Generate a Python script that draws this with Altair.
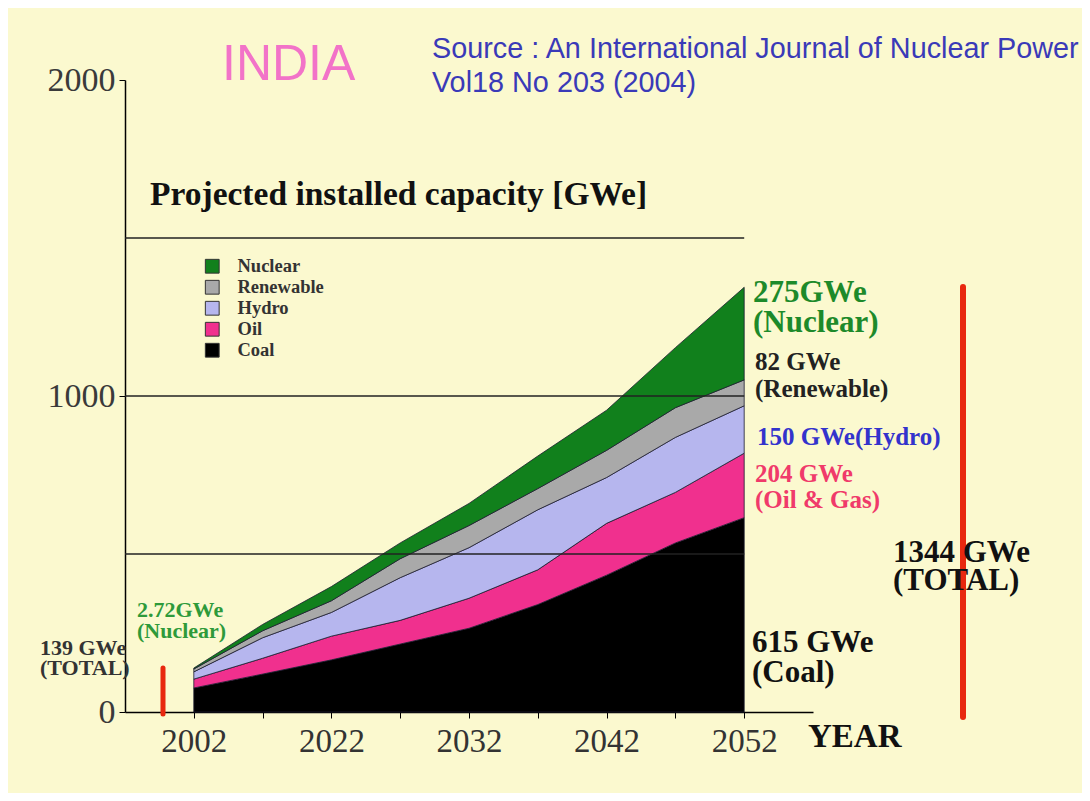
import altair as alt
import pandas as pd

# ---- data (GWe, stacked bands) ----
positions = [0, 1, 2, 3, 4, 5, 6, 7, 8]
year_labels = ["2002", "2022", "2032", "2042", "2052"]
coal = [76, 120, 165, 215, 265, 340, 433, 535, 615]
oil = [28, 50, 75, 75, 95, 110, 164, 160, 204]
hydro = [23, 65, 75, 135, 160, 190, 145, 174, 150]
renewable = [9, 22, 37, 60, 70, 67, 86, 94, 82]
nuclear = [3, 20, 45, 50, 70, 103, 127, 190, 293]
series_names = ["Nuclear", "Renewable", "Hydro", "Oil", "Coal"]
series_colors = ["#11801c", "#a9a9a9", "#b6b6ee", "#f0308e", "#000000"]
grid_values = [500, 1000, 1500]
y_ticks = [0, 1000, 2000]

rows = []
for name, vals, order in [("Coal", coal, 0), ("Oil", oil, 1), ("Hydro", hydro, 2),
                          ("Renewable", renewable, 3), ("Nuclear", nuclear, 4)]:
    for p, v in zip(positions, vals):
        rows.append({"pos": p, "value": v, "source": name, "ord": order})
df = pd.DataFrame(rows)

SERIF = "Liberation Serif"
SANS = "Liberation Sans"
yscale = alt.Scale(domain=[0, 2000], nice=False, zero=True)
xscale = alt.Scale(domain=[-1, 9], nice=False, zero=False)

label_arr = "[" + ",".join("'" + s + "'" for s in year_labels) + "]"
label_expr = "datum.value % 2 == 0 ? " + label_arr + "[datum.value/2] : ''"

y_axis = alt.Axis(values=y_ticks, title=None, grid=False, format="d",
                  labelFont=SERIF, labelFontSize=34, labelColor="#3a3a3a",
                  labelPadding=4, tickSize=6, tickColor="#000",
                  domainColor="#000", domainWidth=1.5)

areas = alt.Chart(df).mark_area(stroke="#1c1c30", strokeWidth=0.8, opacity=1).encode(
    x=alt.X("pos:Q", scale=xscale,
            axis=alt.Axis(values=positions, title=None, grid=False,
                          labelExpr=label_expr,
                          labelFont=SERIF, labelFontSize=33, labelColor="#333333",
                          labelPadding=7, labelAngle=0, tickSize=6, tickColor="#000",
                          domainColor="#000", domainWidth=1.5, labelFlush=False)),
    y=alt.Y("value:Q", stack="zero", scale=yscale, axis=y_axis),
    color=alt.Color("source:N",
                    scale=alt.Scale(domain=series_names, range=series_colors),
                    legend=alt.Legend(title=None, orient="none", legendX=78, legendY=177,
                                      symbolType="square", symbolSize=190,
                                      symbolStrokeColor="#333", symbolStrokeWidth=1,
                                      symbolOpacity=1,
                                      labelFont=SERIF, labelFontWeight="bold",
                                      labelFontSize=18.5, labelColor="#333333",
                                      labelOffset=16, rowPadding=2)),
    order=alt.Order("ord:Q"),
)

grid = alt.Chart(pd.DataFrame({"g": grid_values})).mark_rule(color="#222222", strokeWidth=1.3).encode(
    y=alt.Y("g:Q", scale=yscale, axis=y_axis),
    x=alt.datum(-1),
    x2=alt.datum(8),
)


def txt(lines, x, y, size, color="#111111", font=SERIF, weight="bold", lh=None):
    return alt.Chart(pd.DataFrame({"a": [0]})).mark_text(
        align="left", baseline="alphabetic", font=font, fontSize=size,
        fontWeight=weight, color=color, lineHeight=lh if lh else size * 1.1,
    ).encode(x=alt.value(x), y=alt.value(y), text=alt.value(lines))


def redline(x, y1, y2, w):
    return alt.Chart(pd.DataFrame({"a": [0]})).mark_rule(
        color="#e8280f", strokeWidth=w, strokeCap="round"
    ).encode(x=alt.value(x), y=alt.value(y1), y2=alt.value(y2))


texts = [
    txt("INDIA", 97, 0, 50, color="#f273c8", font=SANS, weight="normal"),
    txt(["Source : An International Journal of Nuclear Power", "Vol18 No 203 (2004)"],
        307, -22, 28.8, color="#3a3ab8", font=SANS, weight="normal", lh=34),
    txt("Projected installed capacity [GWe]", 25, 125, 33.5),
    txt("YEAR", 683, 667, 33),
    txt(["275GWe", "(Nuclear)"], 628, 222, 31, color="#1d8a2a", lh=30),
    txt(["82 GWe", "(Renewable)"], 630, 290, 25, color="#222222", lh=27),
    txt("150 GWe(Hydro)", 632, 365, 25, color="#3333cc"),
    txt(["204 GWe", "(Oil & Gas)"], 630, 402, 25, color="#f03a6a", lh=26),
    txt(["1344 GWe", "(TOTAL)"], 768, 482, 31, color="#111111", lh=28),
    txt(["615 GWe", "(Coal)"], 627, 572, 31, color="#111111", lh=30),
    txt(["139 GWe", "(TOTAL)"], -85, 575, 22, color="#333333", lh=20),
    txt(["2.72GWe", "(Nuclear)"], 12, 537, 22, color="#2e9a3a", lh=21),
]

chart = alt.layer(
    areas, grid,
    redline(838, 207, 637, 6), redline(38, 588, 634, 5),
    *texts,
).properties(
    width=688, height=632,
    autosize=alt.AutoSizeParams(type="none"),
    padding={"left": 117, "top": 72, "right": 269, "bottom": 81},
    background="#fbf9cf",
).configure_view(stroke=None)

chart.save("out.html", embed_options={"renderer": "svg", "actions": False})
